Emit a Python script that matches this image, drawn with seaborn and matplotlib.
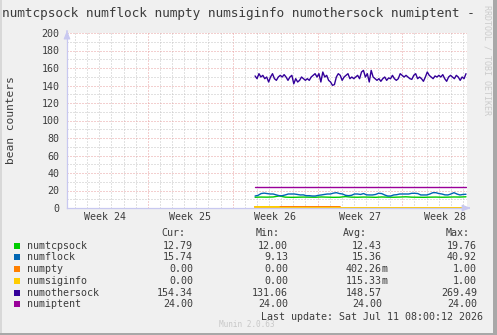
import numpy as np
import pandas as pd
import matplotlib.pyplot as plt
import seaborn as sns
from matplotlib.patches import Rectangle

sns.set_style('white')
plt.rcParams['font.family'] = ['DejaVu Sans Mono']

W, H = 497, 335
TEXT = '#3c3c3c'

# x axis: days since Monday of week 24
week_numbers = [24, 25, 26, 27, 28]
x_start, x_end = 0.333, 33.333
data_start, data_end = 15.85, 33.25

numothersock = [
    150.9, 147.8, 153.5, 149.7, 151.6, 147.8, 149.7, 144.0, 149.7, 153.5,
    147.8, 145.9, 149.7, 151.6, 149.7, 152.4, 149.7, 145.9, 149.7, 151.6,
    142.0, 147.8, 144.0, 145.9, 149.7, 147.8, 145.9, 147.8, 145.9, 149.7,
    151.6, 153.5, 149.7, 153.5, 144.0, 155.4, 149.7, 151.6, 145.9, 144.0,
    140.2, 141.0, 149.7, 153.5, 151.6, 145.9, 149.7, 151.6, 153.5,
    147.8, 149.7, 147.8, 149.7, 151.6, 147.8, 155.4, 157.3, 149.7, 153.5,
    144.0, 157.3, 149.7, 147.8, 145.9, 147.8, 144.8, 147.8, 149.7, 145.9,
    148.6, 147.8, 151.6, 147.8, 145.9, 147.8, 153.5, 151.6, 149.7, 151.6,
    149.7, 147.8, 147.0, 151.6, 153.5, 147.8, 149.7, 147.8, 144.8, 149.7,
    155.4, 151.6, 149.7, 147.8, 150.9, 149.7, 151.6, 149.7, 152.4, 147.8,
    144.8, 149.7, 151.6, 149.7, 147.8, 151.6, 149.7, 145.9, 149.7, 147.8,
    153.5,
]

numflock = [
    13.7, 14.5, 16.5, 17.0, 16.5, 16.0, 16.0, 15.0, 14.1, 14.1,
    14.9, 16.0, 16.0, 16.0, 15.5, 14.9, 15.0, 14.1, 14.1, 13.7,
    13.7, 14.5, 14.9, 15.5, 16.0, 16.0, 17.0, 17.5, 16.5, 16.0,
    14.5, 14.1, 14.5, 16.0, 16.0, 15.5,
    16.5, 15.0, 14.9, 14.9, 15.5, 16.8, 16.5, 14.9, 13.7, 13.7,
    14.9, 15.2, 16.0, 16.0, 16.0, 16.0, 16.8, 16.8, 16.5, 14.9,
    14.9, 14.9, 16.0, 17.5, 17.5, 16.5, 16.0, 15.0, 14.9, 16.0,
    17.5, 16.0, 14.9, 15.5, 15.7,
]

numtcpsock = [
    12.3, 12.5, 12.4, 12.6, 13.8, 12.4, 12.2, 12.3, 12.5, 12.4,
    12.3, 12.6, 12.4, 12.2, 12.3, 13.0, 12.4, 12.3, 12.5, 12.4,
    12.2, 12.6, 12.4, 12.3, 12.5, 12.8, 12.4, 12.3, 12.2, 12.4,
    12.5, 12.3, 12.4, 12.6, 12.5, 12.8,
]

numiptent = [24.0, 24.0]
numpty_days = [data_start, 22.86, data_end]
numpty = [1.0, 0.0, 0.0]
numsiginfo_days = [data_start, 17.82, data_end]
numsiginfo = [1.0, 0.0, 0.0]

series_names = ['numtcpsock', 'numflock', 'numpty', 'numsiginfo', 'numothersock', 'numiptent']
series_colors = ['#00cc00', '#0066b3', '#ff8000', '#ffcc00', '#330099', '#990099']
cur_vals = ['12.79', '15.74', '0.00', '0.00', '154.34', '24.00']
min_vals = ['12.00', '9.13', '0.00', '0.00', '131.06', '24.00']
avg_vals = ['12.43', '15.36', '402.26m', '115.33m', '148.57', '24.00']
max_vals = ['19.76', '40.92', '1.00', '1.00', '269.49', '24.00']


def fx(x):
    return x / W


def fy(y):
    return 1 - y / H


fig = plt.figure(figsize=(W / 100, H / 100), dpi=100, facecolor='#f0f0f0')
ax = fig.add_axes([fx(67), fy(208), 400 / W, 175 / H])
ax.set_facecolor('white')

# grid (rrdtool style)
ax.set_xlim(x_start, x_end)
ax.set_ylim(0, 200)
for d in range(1, 34):
    col = '#e8a0a0' if d % 7 == 0 else '#c4c4c4'
    ax.axvline(d, color=col, lw=0.72, ls=(0, (1, 2)), zorder=0)
for v in range(10, 201, 10):
    col = '#e8a0a0' if v % 20 == 0 else '#c4c4c4'
    ax.axhline(v, color=col, lw=0.72, ls=(0, (1, 2)), zorder=0)

# data series
t_other = np.linspace(data_start, data_end, len(numothersock))
t_flock = np.linspace(data_start, data_end, len(numflock))
t_tcp = np.linspace(data_start, data_end, len(numtcpsock))

lw = 1.0
sns.lineplot(x=t_tcp, y=numtcpsock, color=series_colors[0], lw=lw, ax=ax)
sns.lineplot(x=t_flock, y=numflock, color=series_colors[1], lw=lw, ax=ax)
ax.plot(numpty_days, numpty, color=series_colors[2], lw=1.4, drawstyle='steps-post', clip_on=False)
ax.plot(numsiginfo_days, numsiginfo, color=series_colors[3], lw=1.4, drawstyle='steps-post', clip_on=False)
sns.lineplot(x=t_other, y=numothersock, color=series_colors[4], lw=lw, ax=ax)
sns.lineplot(x=[data_start, data_end], y=numiptent, color=series_colors[5], lw=lw, ax=ax)

# axes
for s in ['top', 'right']:
    ax.spines[s].set_visible(False)
for s in ['left', 'bottom']:
    ax.spines[s].set_color('#c8c8f0')
    ax.spines[s].set_linewidth(0.9)
ax.annotate('', xy=(1.016, 0), xytext=(0.998, 0), xycoords='axes fraction',
            arrowprops=dict(arrowstyle='-|>,head_length=0.5,head_width=0.2', color='#c8c8f0', lw=0.8))
ax.annotate('', xy=(0, 1.03), xytext=(0, 0.995), xycoords='axes fraction',
            arrowprops=dict(arrowstyle='-|>,head_length=0.5,head_width=0.2', color='#c8c8f0', lw=0.8))

ax.set_yticks(range(0, 201, 20))
ax.set_xticks([(w - 24) * 7 + 3.5 for w in week_numbers])
ax.set_xticklabels([f'Week {w}' for w in week_numbers])
ax.tick_params(axis='y', length=1.5, width=0.7, color='#e8a0a0', pad=3.8,
               labelsize=7.2, labelcolor=TEXT)
ax.tick_params(axis='x', length=0, pad=2.6, labelsize=7.2, labelcolor=TEXT)
ax.set_xlabel('')
ax.set_ylabel('')

# title and side texts
fig.text(fx(1.5), fy(13.5), 'numtcpsock numflock numpty numsiginfo numothersock numiptent -',
         ha='left', va='center', fontsize=9.2, color=TEXT)
fig.text(fx(11), fy(120), 'bean counters', rotation=90, ha='center', va='center',
         fontsize=8.1, color=TEXT)
fig.text(fx(487), fy(60), 'RRDTOOL / TOBI OETIKER', rotation=270, ha='center', va='center',
         fontsize=6.0, color='#cccccc')

# legend table
fs = 7.2
cols = {'Cur:': 193, 'Min:': 288, 'Avg:': 382, 'Max:': 477}
head_right = {'Cur:': 185, 'Min:': 280, 'Avg:': 367, 'Max:': 470}
for h, xr in head_right.items():
    fig.text(fx(xr), fy(233), h, ha='right', va='center', fontsize=fs, color=TEXT)

for i, name in enumerate(series_names):
    y = 245.7 + i * 11.75
    fig.patches.append(Rectangle((fx(14), fy(y + 3)), 6 / W, 6 / H, transform=fig.transFigure,
                                 facecolor=series_colors[i], edgecolor='none'))
    fig.text(fx(27), fy(y), name, ha='left', va='center', fontsize=fs, color=TEXT)
    for key, vals in zip(cols, [cur_vals, min_vals, avg_vals, max_vals]):
        val = vals[i]
        suffix = ''
        if val.endswith('m'):
            val, suffix = val[:-1], 'm'
        fig.text(fx(cols[key]), fy(y), val, ha='right', va='center', fontsize=fs, color=TEXT)
        if suffix:
            fig.text(fx(cols[key]), fy(y), suffix, ha='left', va='center', fontsize=fs, color=TEXT)

fig.text(fx(483), fy(316.7), 'Last update: Sat Jul 11 08:00:12 2026', ha='right', va='center',
         fontsize=fs, color=TEXT)
fig.text(fx(247), fy(324.5), 'Munin 2.0.63', ha='center', va='center', fontsize=5.6, color='#c8c8c8')

# image frame
fig.patches.append(Rectangle((0, 0), fx(2), 1, transform=fig.transFigure, facecolor='#d8d8d8', edgecolor='none'))
fig.patches.append(Rectangle((fx(493), 0), fx(4), 1, transform=fig.transFigure, facecolor='#a8a8a8', edgecolor='none'))
fig.patches.append(Rectangle((0, 0), 1, 2 / H, transform=fig.transFigure, facecolor='#a8a8a8', edgecolor='none'))

fig.savefig('out.png', dpi=100, facecolor=fig.get_facecolor())
